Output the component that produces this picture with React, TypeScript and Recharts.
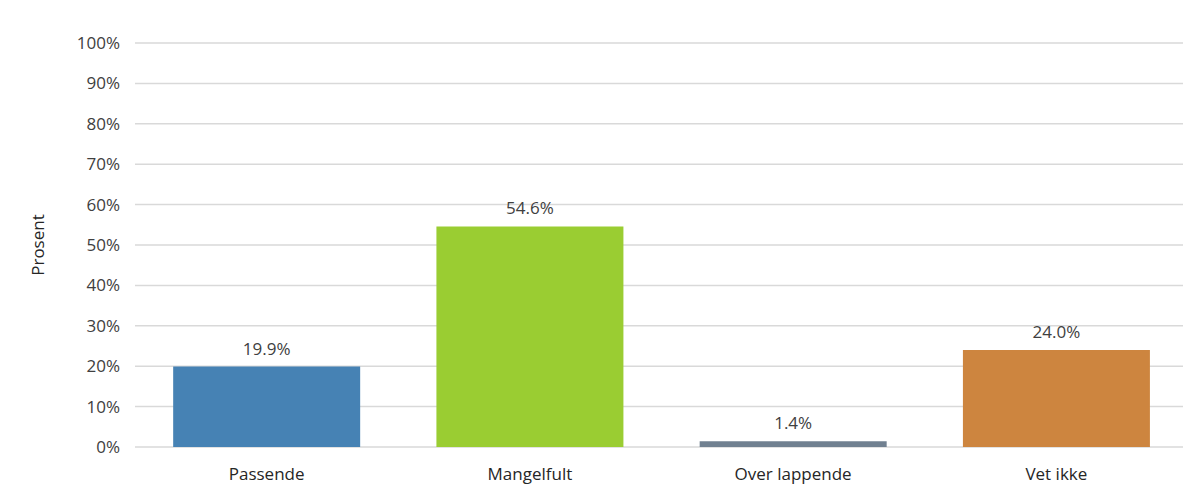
import { BarChart, Bar, XAxis, YAxis, CartesianGrid, LabelList, Cell } from 'recharts'

const categories = ['Passende', 'Mangelfult', 'Over lappende', 'Vet ikke']
const values = [19.9, 54.6, 1.4, 24.0]
const colors = ['#4682b4', '#9acd32', '#708090', '#cd853f']
const yTicks = [0, 10, 20, 30, 40, 50, 60, 70, 80, 90, 100]

const data = categories.map((name, i) => ({ name, value: values[i] }))

const font = '"Open Sans", sans-serif'

export default function App() {
  return (
    <div style={{ fontFamily: font, margin: -8, width: 1191, height: 501 }}>
      <BarChart
        width={1191}
        height={501}
        data={data}
        margin={{ top: 43, right: 3, left: 0, bottom: 24 }}
        barCategoryGap="14.5%"
      >
        <CartesianGrid vertical={false} stroke="#d9d9d9" strokeWidth={1.5} />
        <XAxis
          dataKey="name"
          axisLine={false}
          tickLine={false}
          tickSize={0}
          tickMargin={21}
          tick={{ fontSize: 17, fill: '#262626', fontFamily: font }}
        />
        <YAxis
          domain={[0, 100]}
          ticks={yTicks}
          width={135}
          axisLine={false}
          tickLine={false}
          tickSize={0}
          tickMargin={15}
          tickFormatter={(v) => `${v}%`}
          tick={{ fontSize: 17, fill: '#404040', fontFamily: font }}
          label={{
            value: 'Prosent',
            angle: -90,
            position: 'insideLeft',
            dx: 33,
            style: { fontSize: 17, fill: '#262626', fontFamily: font, textAnchor: 'middle' },
          }}
        />
        <Bar dataKey="value" isAnimationActive={false}>
          {data.map((d, i) => (
            <Cell key={d.name} fill={colors[i]} />
          ))}
          <LabelList
            dataKey="value"
            position="top"
            offset={12}
            formatter={(v: number) => `${Number(v).toFixed(1)}%`}
            style={{ fontSize: 17, fill: '#404040', fontFamily: font }}
          />
        </Bar>
      </BarChart>
    </div>
  )
}
